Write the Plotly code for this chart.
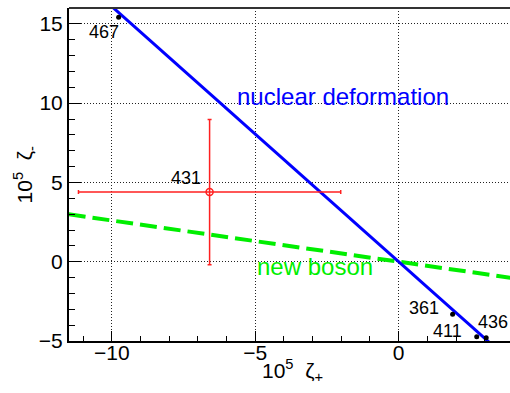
import plotly.graph_objects as go

# ---- data ----
iso_labels = ["467", "361", "411", "436"]
zeta_plus = [-9.76, 1.88, 2.72, 3.05]
zeta_minus = [15.41, -3.32, -4.73, -4.79]

pt431_x = [-6.59]
pt431_y = [4.39]
pt431_ex = [4.57]
pt431_ey = [4.58]

nuc_slope = -1.61     # nuclear deformation line through origin
boson_slope = -0.26   # new boson line through origin
line_x = [-11.5, 3.9]

x_range = [-11.49, 3.88]
y_range = [-5, 16]

FONT = "Liberation Sans, Arial, sans-serif"

fig = go.Figure()

fig.add_trace(go.Scatter(
    x=line_x, y=[boson_slope * v for v in line_x], mode="lines",
    line=dict(color="#00ee00", width=4, dash="17px,7px"), showlegend=False))
fig.add_trace(go.Scatter(
    x=line_x, y=[nuc_slope * v for v in line_x], mode="lines",
    line=dict(color="#0000ff", width=3), showlegend=False))

fig.add_trace(go.Scatter(
    x=pt431_x, y=pt431_y, mode="markers",
    marker=dict(symbol="circle-open", size=7, color="#ff2020", line=dict(width=1.5)),
    error_x=dict(type="data", array=pt431_ex, color="#ff2020", thickness=1.5, width=2),
    error_y=dict(type="data", array=pt431_ey, color="#ff2020", thickness=1.5, width=2),
    showlegend=False))

fig.add_trace(go.Scatter(
    x=zeta_plus, y=zeta_minus, mode="markers",
    marker=dict(symbol="circle", size=5, color="black"), showlegend=False))

# point labels (offsets in pixels from each point)
offsets = {"467": (-15, -15), "361": (-29, 6), "411": (-29, 6), "436": (7, 16)}
for lab, xv, yv in zip(iso_labels, zeta_plus, zeta_minus):
    dx, dy = offsets[lab]
    fig.add_annotation(x=xv, y=yv, text=lab, showarrow=False, xshift=dx, yshift=dy,
                       font=dict(family=FONT, size=18, color="black"))
fig.add_annotation(x=pt431_x[0], y=pt431_y[0], text="431", showarrow=False,
                   xshift=-24, yshift=14, font=dict(family=FONT, size=18, color="black"))

fig.add_annotation(x=-5.71, y=10.42, text="nuclear deformation", showarrow=False,
                   xanchor="left", yanchor="middle",
                   font=dict(family=FONT, size=24, color="#0000ff"))
fig.add_annotation(x=-5.01, y=-0.30, text="new boson", showarrow=False,
                   xanchor="left", yanchor="middle",
                   font=dict(family=FONT, size=24, color="#00ee00"))

# axis titles
fig.add_annotation(xref="paper", yref="paper", x=0.506, y=-0.088,
                   text="10<sup>5</sup>  ζ<sub>+</sub>", showarrow=False,
                   xanchor="center", yanchor="middle",
                   font=dict(family=FONT, size=21, color="black"))
fig.add_annotation(xref="paper", yref="paper", x=-0.10, y=0.50,
                   text="10<sup>5</sup>  ζ<sub>-</sub>", showarrow=False, textangle=-90,
                   xanchor="center", yanchor="middle",
                   font=dict(family=FONT, size=21, color="black"))

# top frame line
fig.add_shape(type="line", xref="paper", yref="paper", x0=0, x1=1, y0=1, y1=1,
              line=dict(color="#333333", width=2))

axis_common = dict(
    showline=True, linecolor="black", linewidth=2,
    ticks="inside", tickcolor="black", tickwidth=1,
    showgrid=True, gridcolor="#222222", gridwidth=1, griddash="1px,2px",
    zeroline=False, automargin=False,
    tickfont=dict(family=FONT, size=21, color="black"),
)

fig.update_xaxes(
    range=x_range, dtick=5, tick0=0, ticklen=10,
    minor=dict(dtick=1, tick0=0, ticks="inside", ticklen=5, tickcolor="black", showgrid=False),
    tickmode="linear", ticklabelstandoff=-8,
    **axis_common)
fig.update_yaxes(
    range=y_range, dtick=5, tick0=0, ticklen=12,
    minor=dict(dtick=1, tick0=0, ticks="inside", ticklen=6, tickcolor="black", showgrid=False),
    tickmode="linear",
    **axis_common)

fig.update_layout(
    width=510, height=393,
    margin=dict(l=69, r=0, t=8, b=52),
    plot_bgcolor="white", paper_bgcolor="white",
    font=dict(family=FONT),
    showlegend=False,
)

fig.write_html("out.html", config={"displayModeBar": False},
               post_script="document.body.style.margin='0';document.body.style.overflow='hidden';")
